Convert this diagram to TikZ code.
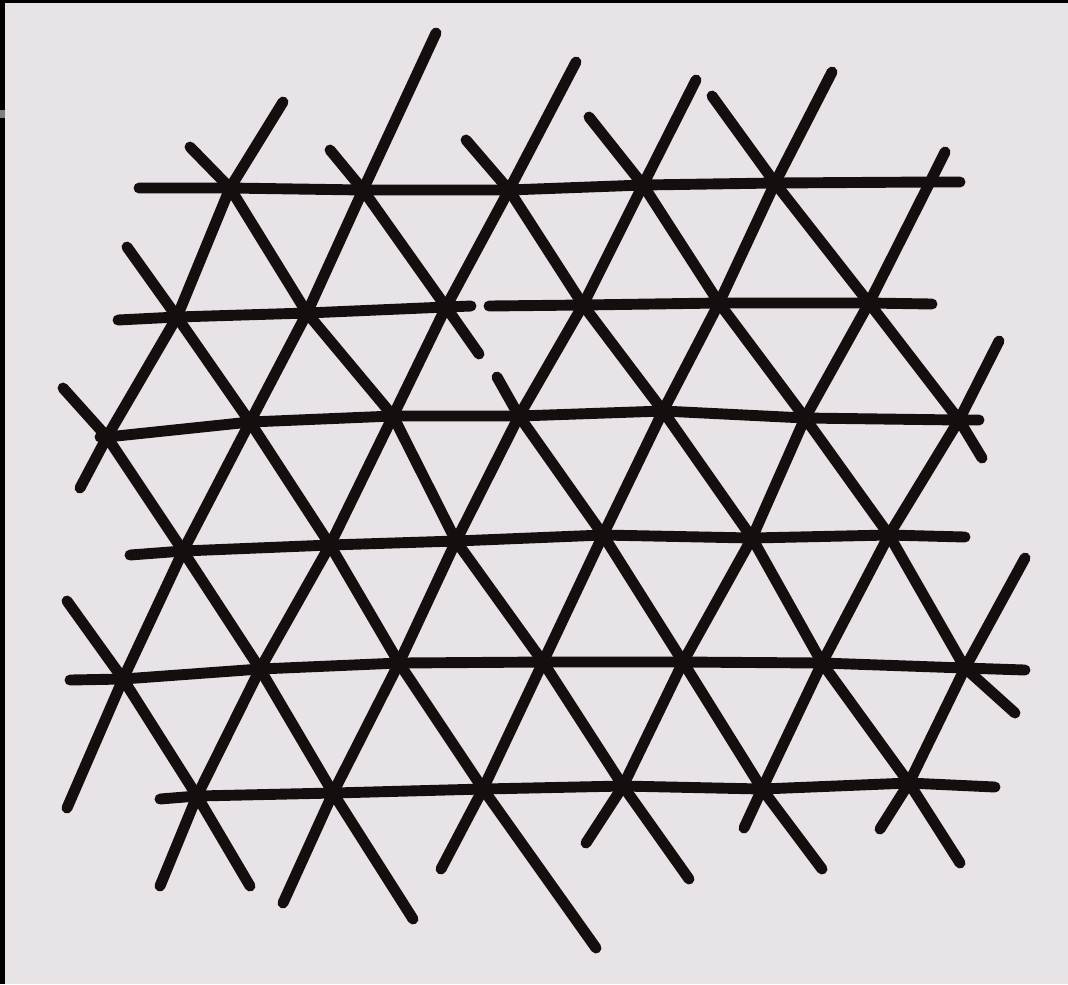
\documentclass[tikz,border=0pt]{standalone}
\usepackage{tikz}
\definecolor{paper}{HTML}{E7E3E7}
\definecolor{ink}{HTML}{140E0E}

\begin{document}
\begin{tikzpicture}[x=0.01cm, y=-0.01cm,
  inkline/.style = {draw=ink, line width=3.1pt, line cap=round, line join=round} ]

%--- Paper ---
\fill[paper] (0,0) rectangle (1068,984);
\useasboundingbox (0,0) rectangle (1068,984);
\fill[black] (0,0) rectangle (1068,3);
\fill[black] (0,0) rectangle (5,984);
\fill[gray] (0,110) rectangle (5,118);

%--- Crossing points, row by row ---
\foreach \x/\y [count=\k] in {230/188, 363/190, 509/190, 643/185, 775/183, 930/182}
  \coordinate (v1_\k) at (\x,\y);
\foreach \x/\y [count=\k] in {177/317, 307/313, 446/307, 583/305, 719/303, 869/303}
  \coordinate (v2_\k) at (\x,\y);
\foreach \x/\y [count=\k] in {107/437, 250/422, 393/416, 519/416, 663/411, 805/418, 959/420}
  \coordinate (v3_\k) at (\x,\y);
\foreach \x/\y [count=\k] in {183/551, 330/545, 456/541, 603/535, 752/538, 889/535}
  \coordinate (v4_\k) at (\x,\y);
\foreach \x/\y [count=\k] in {123/679, 260/669, 399/663, 543/662, 683/662, 822/663, 965/668}
  \coordinate (v5_\k) at (\x,\y);
\foreach \x/\y [count=\k] in {197/796, 333/793, 483/789, 623/786, 762/789, 909/783}
  \coordinate (v6_\k) at (\x,\y);

%--- Horizontal strokes ---
\draw[inkline] (139,188) -- (v1_1) -- (v1_2) -- (v1_3) -- (v1_4) -- (v1_5) -- (v1_6) -- (960,182);
\draw[inkline] (118,320) -- (v2_1) -- (v2_2) -- (v2_3) -- (471,306);
\draw[inkline] (489,306) -- (v2_4) -- (v2_5) -- (v2_6) -- (932,304);
\draw[inkline] (100,437) -- (v3_1) -- (v3_2) -- (v3_3) -- (v3_4) -- (v3_5) -- (v3_6) -- (v3_7) -- (979,420);
\draw[inkline] (130,555) -- (v4_1) -- (v4_2) -- (v4_3) -- (v4_4) -- (v4_5) -- (v4_6) -- (965,537);
\draw[inkline] (70,680) -- (v5_1) -- (v5_2) -- (v5_3) -- (v5_4) -- (v5_5) -- (v5_6) -- (v5_7) -- (1025,670);
\draw[inkline] (160,799) -- (v6_1) -- (v6_2) -- (v6_3) -- (v6_4) -- (v6_5) -- (v6_6) -- (995,787);

%--- Rising strokes (/) ---
\draw[inkline] (283,102) -- (v1_1) -- (v2_1) -- (v3_1) -- (80,488);
\draw[inkline] (436,33) -- (v1_2) -- (v2_2) -- (v3_2) -- (v4_1) -- (v5_1) -- (67,808);
\draw[inkline] (576,62) -- (v1_3) -- (v2_3) -- (v3_3) -- (v4_2) -- (v5_2) -- (v6_1) -- (160,886);
\draw[inkline] (696,80) -- (v1_4) -- (v2_4) -- (v3_4) -- (v4_3) -- (v5_3) -- (v6_2) -- (283,903);
\draw[inkline] (832,72) -- (v1_5) -- (v2_5) -- (v3_5) -- (v4_4) -- (v5_4) -- (v6_3) -- (441,869);
\draw[inkline] (945,152) -- (v1_6) -- (v2_6) -- (v3_6) -- (v4_5) -- (v5_5) -- (v6_4) -- (586,843);
\draw[inkline] (999,341) -- (v3_7) -- (v4_6) -- (v5_6) -- (v6_5) -- (744,828);
\draw[inkline] (1025,558) -- (v5_7) -- (v6_6) -- (880,829);

%--- Falling strokes (\) ---
\draw[inkline] (127,247) -- (v2_1) -- (v3_2) -- (v4_2) -- (v5_3) -- (v6_3) -- (596,948);
\draw[inkline] (190,147) -- (v1_1) -- (v2_2) -- (v3_3) -- (v4_3) -- (v5_4) -- (v6_4) -- (689,879);
\draw[inkline] (330,150) -- (v1_2) -- (v2_3) -- (479,354);
\draw[inkline] (497,377) -- (v3_4) -- (v4_4) -- (v5_5) -- (v6_5) -- (822,869);
\draw[inkline] (466,140) -- (v1_3) -- (v2_4) -- (v3_5) -- (v4_5) -- (v5_6) -- (v6_6) -- (960,863);
\draw[inkline] (589,117) -- (v1_4) -- (v2_5) -- (v3_6) -- (v4_6) -- (v5_7) -- (1015,713);
\draw[inkline] (712,96) -- (v1_5) -- (v2_6) -- (v3_7) -- (982,458);
\draw[inkline] (63,388) -- (v3_1) -- (v4_1) -- (v5_2) -- (v6_2) -- (413,919);
\draw[inkline] (67,601) -- (v5_1) -- (v6_1) -- (250,886);

\end{tikzpicture}
\end{document}
